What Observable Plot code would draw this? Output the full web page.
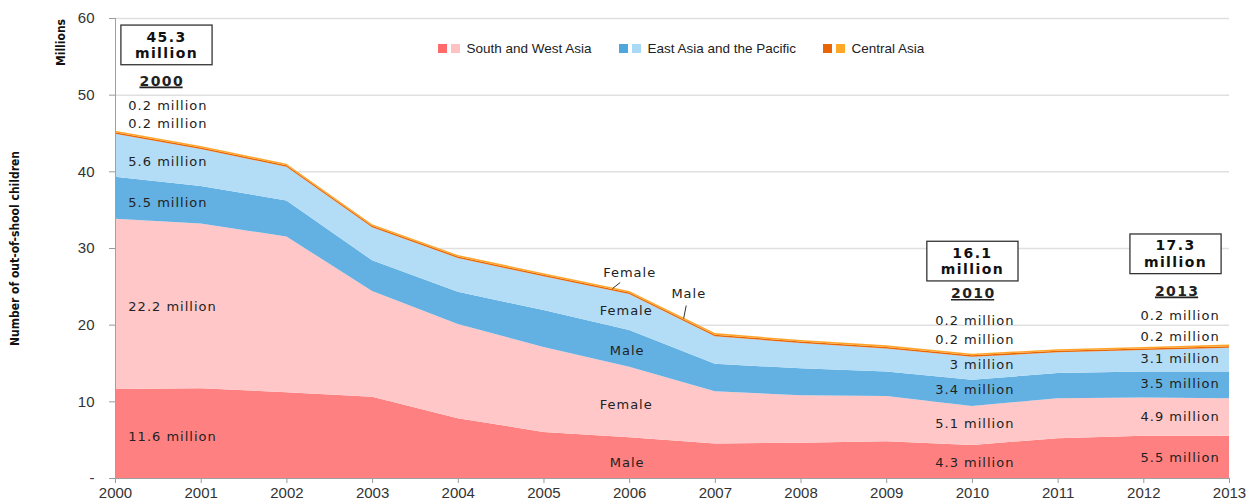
<!DOCTYPE html>
<html>
<head>
<meta charset="utf-8">
<script src="https://cdn.jsdelivr.net/npm/d3@7"></script>
<script src="https://cdn.jsdelivr.net/npm/@observablehq/plot@0.6"></script>
<style>
  html, body { margin: 0; padding: 0; background: #fff; }
  #wrap { position: relative; width: 1250px; height: 500px; }
  #wrap svg { display: block; }
  g[aria-label$="axis tick"] { stroke: #9a9a9a; }
  .tick line { stroke: #9a9a9a; }
  g[aria-description="label"] text { letter-spacing: 1px; }
  g[aria-description="boxed"] text, g[aria-description="year"] text { letter-spacing: 1.4px; }
  .legend { position: absolute; top: 38px; height: 20px; display: flex; align-items: center;
            font-family: 'Liberation Sans', Arial, sans-serif; font-size: 13.5px; color: #222; white-space: nowrap; }
  .legend .sw { width: 9px; height: 9px; margin-right: 4px; }
  .legend .txt { margin-left: 2.5px; }
</style>
</head>
<body>
<div id="wrap"></div>
<script>
// ---- data ----
const years = [2000, 2001, 2002, 2003, 2004, 2005, 2006, 2007, 2008, 2009, 2010, 2011, 2012, 2013];
const swaMale   = [11.6, 11.7, 11.2, 10.6, 7.8, 6.0, 5.3, 4.5, 4.6, 4.8, 4.3, 5.2, 5.5, 5.5];
const swaFemale = [22.2, 21.5, 20.3, 13.8, 12.3, 11.1, 9.2, 6.8, 6.2, 5.9, 5.1, 5.2, 5.0, 4.9];
const eapMale   = [5.5, 4.9, 4.7, 4.0, 4.2, 4.8, 4.8, 3.6, 3.5, 3.2, 3.4, 3.3, 3.4, 3.5];
const eapFemale = [5.6, 4.8, 4.4, 4.3, 4.4, 4.4, 4.7, 3.6, 3.3, 3.0, 3.0, 2.7, 2.8, 3.1];
const caMale    = [0.2, 0.2, 0.2, 0.2, 0.2, 0.2, 0.2, 0.2, 0.2, 0.2, 0.2, 0.2, 0.2, 0.2];
const caFemale  = [0.2, 0.2, 0.2, 0.2, 0.2, 0.2, 0.2, 0.2, 0.2, 0.2, 0.2, 0.2, 0.2, 0.2];

const seriesKeys = ["SWA Male", "SWA Female", "EAP Male", "EAP Female", "CA Male", "CA Female"];
const seriesValues = [swaMale, swaFemale, eapMale, eapFemale, caMale, caFemale];
const seriesColors = ["#FF8080", "#FFC7C7", "#63B1E3", "#B3DDF6", "#E8650A", "#FFA52A"];

const yTicks = [0, 10, 20, 30, 40, 50, 60];

const legendNames = ["South and West Asia", "East Asia and the Pacific", "Central Asia"];
const legendColors = [["#FF6B6B", "#FFC2C2"], ["#4FA5DC", "#A9D9F5"], ["#E8650A", "#FFA726"]];

// annotations (data coordinates)
const totalBoxes = [
  {x: 2000.595, y: 56.6, text: "45.3\nmillion"},
  {x: 2010.0, y: 28.4, text: "16.1\nmillion"},
  {x: 2012.37, y: 29.35, text: "17.3\nmillion"}
];
const yearLabels = [
  {x: 2000.54, y: 51.8, text: "2000"},
  {x: 2010.01, y: 24.1, text: "2010"},
  {x: 2012.39, y: 24.4, text: "2013"}
];
const labels2000 = [
  {y: 48.65, text: "0.2 million"}, {y: 46.26, text: "0.2 million"}, {y: 41.25, text: "5.6 million"},
  {y: 35.91, text: "5.5 million"}, {y: 22.34, text: "22.2 million"}, {y: 5.39, text: "11.6 million"}
];
const labels2010 = [
  {y: 20.6, text: "0.2 million"}, {y: 18.13, text: "0.2 million"}, {y: 14.83, text: "3 million"},
  {y: 11.57, text: "3.4 million"}, {y: 7.13, text: "5.1 million"}, {y: 2.0, text: "4.3 million"}
];
const labels2013 = [
  {y: 21.26, text: "0.2 million"}, {y: 18.52, text: "0.2 million"}, {y: 15.61, text: "3.1 million"},
  {y: 12.35, text: "3.5 million"}, {y: 8.0, text: "4.9 million"}, {y: 2.7, text: "5.5 million"}
];
const labels2006 = [
  {x: 2006.0, y: 26.87, text: "Female"}, {x: 2006.69, y: 24.13, text: "Male"},
  {x: 2005.96, y: 21.9, text: "Female"}, {x: 2005.97, y: 16.6, text: "Male"},
  {x: 2005.96, y: 9.6, text: "Female"}, {x: 2005.97, y: 2.05, text: "Male"}
];
const leaders = [
  {x1: 2005.89, y1: 25.56, x2: 2005.80, y2: 24.78},
  {x1: 2006.66, y1: 22.56, x2: 2006.63, y2: 20.87}
];

// ---- table for the stacked areas ----
const rows = seriesKeys.flatMap((k, si) => years.map((yr, i) => ({year: yr, key: k, value: seriesValues[si][i]})));

const labelFont = "'DejaVu Sans', Verdana, sans-serif";
const narrowFont = "'Liberation Sans Narrow', 'Arial Narrow', 'DejaVu Sans Condensed', sans-serif";

const chart = Plot.plot({
  width: 1250,
  height: 500,
  marginLeft: 115,
  marginRight: 21,
  marginTop: 18,
  marginBottom: 22,
  style: {fontFamily: "'Liberation Sans', Arial, sans-serif", fontSize: "15px", color: "#333", background: "white", overflow: "visible"},
  x: {domain: [2000, 2013], ticks: years, tickFormat: d => String(d), tickSize: 5, tickPadding: 4, label: null},
  y: {domain: [0, 60], ticks: yTicks, tickFormat: d => d === 0 ? "-" : String(d), tickSize: 6, tickPadding: 15, label: null},
  color: {domain: seriesKeys, range: seriesColors},
  marks: [
    Plot.ruleY(yTicks.filter(d => d > 0), {stroke: "#e0e0e0", strokeWidth: 1.5}),
    Plot.areaY(rows, {x: "year", y: "value", z: "key", fill: "key"}),
    Plot.ruleX([2000], {stroke: "#a0a0a0"}),
    Plot.ruleY([0], {stroke: "#a0a0a0"}),
    Plot.link(leaders, {x1: "x1", y1: "y1", x2: "x2", y2: "y2", stroke: "#333", strokeWidth: 1}),
    Plot.text(labels2000, {x: () => 2000.15, y: "y", text: "text", textAnchor: "start", fontFamily: labelFont, fontSize: 13, fill: "#222", ariaDescription: "label"}),
    Plot.text(labels2010, {x: () => 2010.49, y: "y", text: "text", textAnchor: "end", fontFamily: labelFont, fontSize: 13, fill: "#222", ariaDescription: "label"}),
    Plot.text(labels2013, {x: () => 2012.885, y: "y", text: "text", textAnchor: "end", fontFamily: labelFont, fontSize: 13, fill: "#222", ariaDescription: "label"}),
    Plot.text(labels2006, {x: "x", y: "y", text: "text", textAnchor: "middle", fontFamily: labelFont, fontSize: 13, fill: "#222", ariaDescription: "label"}),
    Plot.text(totalBoxes, {x: "x", y: "y", text: "text", textAnchor: "middle", lineAnchor: "middle", lineHeight: 1.19, fontFamily: labelFont, fontSize: 14, fontWeight: "bold", fill: "#111", ariaDescription: "boxed"}),
    Plot.text(yearLabels, {x: "x", y: "y", text: "text", textAnchor: "middle", fontFamily: labelFont, fontSize: 14, fontWeight: "bold", fill: "#222", ariaDescription: "year"}),
    Plot.text(["Millions"], {frameAnchor: "top-left", dx: -59, dy: 24, rotate: -90, textAnchor: "middle", fontFamily: narrowFont, fontWeight: "bold", fontSize: 12, fill: "#111"}),
    Plot.text(["Number of out-of-shool children"], {frameAnchor: "left", dx: -100, dy: 0, rotate: -90, textAnchor: "middle", fontFamily: narrowFont, fontWeight: "bold", fontSize: 12, fill: "#111"})
  ]
});

const wrap = document.getElementById("wrap");
wrap.appendChild(chart);

// boxes around totals
const NS = "http://www.w3.org/2000/svg";
chart.querySelectorAll('g[aria-description="boxed"] text').forEach(t => {
  const b = t.getBBox();
  const r = document.createElementNS(NS, "rect");
  const w = b.width + 28, h = b.height + 7;
  r.setAttribute("x", b.x + b.width / 2 - w / 2);
  r.setAttribute("y", b.y + b.height / 2 - h / 2);
  r.setAttribute("width", w);
  r.setAttribute("height", h);
  r.setAttribute("fill", "white");
  r.setAttribute("stroke", "#333");
  r.setAttribute("stroke-width", 1.3);
  if (t.getAttribute("transform")) r.setAttribute("transform", t.getAttribute("transform"));
  t.parentNode.insertBefore(r, t);
});
// underline year labels
chart.querySelectorAll('g[aria-description="year"] text').forEach(t => {
  const b = t.getBBox();
  const l = document.createElementNS(NS, "line");
  const yy = b.y + b.height - 1.5;
  l.setAttribute("x1", b.x);
  l.setAttribute("x2", b.x + b.width - 1.4);
  l.setAttribute("y1", yy);
  l.setAttribute("y2", yy);
  l.setAttribute("stroke", "#222");
  l.setAttribute("stroke-width", 1.6);
  if (t.getAttribute("transform")) l.setAttribute("transform", t.getAttribute("transform"));
  t.parentNode.appendChild(l);
});

// legend (inside plot area, top)
const legendLeft = [438, 619, 823];
legendNames.forEach((name, i) => {
  const g = document.createElement("div");
  g.className = "legend";
  g.style.left = legendLeft[i] + "px";
  legendColors[i].forEach(c => {
    const s = document.createElement("span");
    s.className = "sw";
    s.style.background = c;
    g.appendChild(s);
  });
  const t = document.createElement("span");
  t.className = "txt";
  t.textContent = name;
  g.appendChild(t);
  wrap.appendChild(g);
});
</script>
</body>
</html>
